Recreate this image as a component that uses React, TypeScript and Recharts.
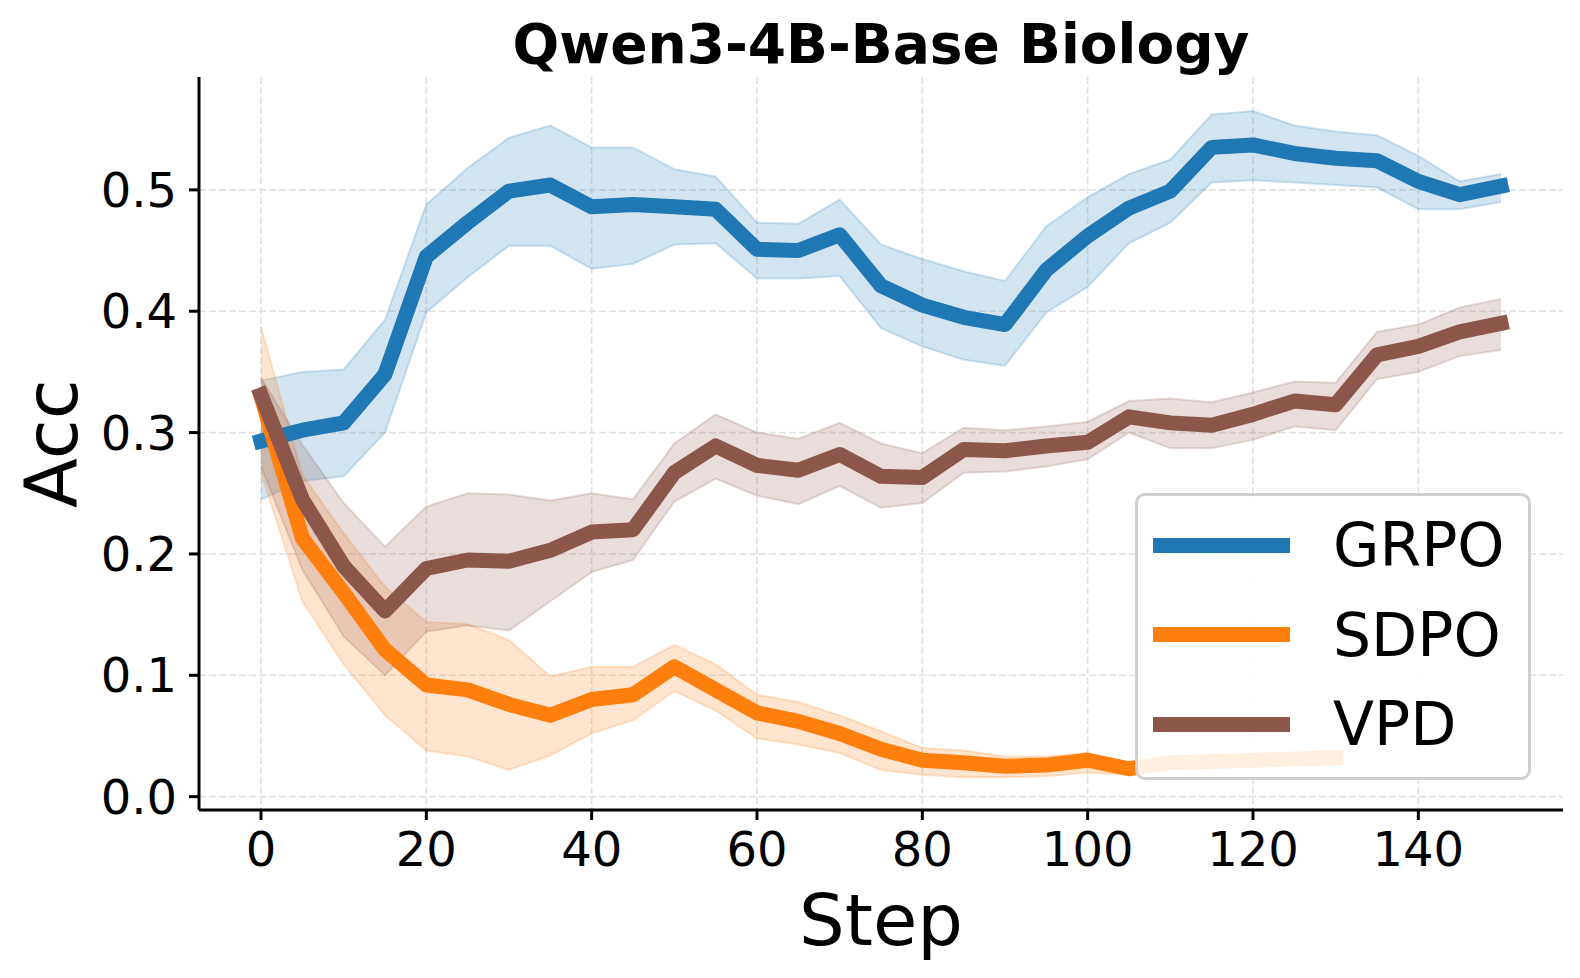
import React from 'react'
import { Area, CartesianGrid, ComposedChart, Label, Line, XAxis, YAxis } from 'recharts'

const steps = [0, 5, 10, 15, 20, 25, 30, 35, 40, 45, 50, 55, 60, 65, 70, 75, 80, 85, 90, 95, 100, 105, 110, 115, 120, 125, 130, 135, 140, 145, 150]

const grpoMean = [0.293, 0.302, 0.308, 0.348, 0.445, 0.473, 0.499, 0.504, 0.486, 0.488, 0.486, 0.484, 0.451, 0.45, 0.463, 0.421, 0.405, 0.395, 0.389, 0.434, 0.462, 0.485, 0.499, 0.535, 0.537, 0.53, 0.526, 0.524, 0.507, 0.496, 0.503]
const grpoHigh = [0.343, 0.35, 0.352, 0.393, 0.488, 0.518, 0.543, 0.553, 0.535, 0.535, 0.517, 0.511, 0.473, 0.472, 0.492, 0.455, 0.443, 0.433, 0.425, 0.47, 0.494, 0.513, 0.525, 0.562, 0.565, 0.553, 0.548, 0.545, 0.528, 0.507, 0.513]
const grpoLow = [0.245, 0.26, 0.264, 0.3, 0.399, 0.428, 0.454, 0.454, 0.435, 0.439, 0.455, 0.456, 0.427, 0.427, 0.429, 0.386, 0.371, 0.36, 0.355, 0.399, 0.42, 0.456, 0.473, 0.506, 0.508, 0.506, 0.504, 0.502, 0.484, 0.484, 0.49]

// SDPO stops at step 130
const sdpoMean = [0.33, 0.213, 0.168, 0.121, 0.092, 0.088, 0.076, 0.067, 0.08, 0.084, 0.107, 0.088, 0.069, 0.062, 0.052, 0.039, 0.03, 0.028, 0.025, 0.026, 0.03, 0.023, 0.028, 0.029, 0.03, 0.031, 0.032]
const sdpoHigh = [0.387, 0.265, 0.217, 0.173, 0.144, 0.142, 0.129, 0.099, 0.107, 0.107, 0.125, 0.109, 0.084, 0.078, 0.067, 0.054, 0.04, 0.038, 0.033, 0.033, 0.036, 0.028, 0.032, 0.033, 0.034, 0.035, 0.036]
const sdpoLow = [0.267, 0.161, 0.109, 0.067, 0.038, 0.033, 0.022, 0.034, 0.052, 0.063, 0.087, 0.071, 0.048, 0.043, 0.036, 0.022, 0.018, 0.016, 0.016, 0.017, 0.02, 0.018, 0.024, 0.025, 0.026, 0.027, 0.028]

const vpdMean = [0.331, 0.245, 0.19, 0.153, 0.188, 0.195, 0.194, 0.203, 0.218, 0.22, 0.267, 0.289, 0.273, 0.269, 0.282, 0.264, 0.263, 0.286, 0.285, 0.289, 0.292, 0.313, 0.308, 0.306, 0.315, 0.326, 0.323, 0.364, 0.371, 0.383, 0.39]
const vpdHigh = [0.345, 0.29, 0.242, 0.206, 0.239, 0.25, 0.249, 0.244, 0.25, 0.245, 0.291, 0.315, 0.3, 0.295, 0.308, 0.291, 0.283, 0.304, 0.302, 0.305, 0.309, 0.326, 0.328, 0.325, 0.333, 0.342, 0.341, 0.383, 0.389, 0.403, 0.41]
const vpdLow = [0.272, 0.187, 0.132, 0.1, 0.136, 0.141, 0.137, 0.161, 0.185, 0.195, 0.243, 0.262, 0.248, 0.241, 0.256, 0.238, 0.242, 0.267, 0.268, 0.272, 0.278, 0.3, 0.287, 0.287, 0.294, 0.305, 0.302, 0.344, 0.35, 0.363, 0.368]

const xTicks = [0, 20, 40, 60, 80, 100, 120, 140]
const yTicks = [0, 0.1, 0.2, 0.3, 0.4, 0.5]

const series = [
    { key: 'grpo', name: 'GRPO', color: '#1f77b4' },
    { key: 'sdpo', name: 'SDPO', color: '#ff7f0e' },
    { key: 'vpd', name: 'VPD', color: '#8c564b' },
]

const data = steps.map((step, i) => ({
    step,
    grpo: grpoMean[i],
    grpoBand: [grpoLow[i], grpoHigh[i]],
    sdpo: sdpoMean[i],
    sdpoBand: sdpoMean[i] == null ? undefined : [sdpoLow[i], sdpoHigh[i]],
    vpd: vpdMean[i],
    vpdBand: [vpdLow[i], vpdHigh[i]],
}))

const font = '"DejaVu Sans", sans-serif'
const axisColor = '#000'
const gridColor = '#e2e2e2'

const Y_AXIS_W = 150
const X_AXIS_H = 60

export default function App() {
    return (
        <div style={{ position: 'absolute', left: 0, top: 0, width: 1580, height: 978, background: '#fff', fontFamily: font }}>
            <div
                style={{
                    position: 'absolute',
                    left: 199,
                    width: 1364,
                    top: 9,
                    textAlign: 'center',
                    fontSize: 55,
                    fontWeight: 'bold',
                    lineHeight: '70px',
                }}
            >
                Qwen3-4B-Base Biology
            </div>
            <ComposedChart
                width={1580}
                height={978}
                data={data}
                margin={{ top: 77, right: 17, bottom: 168 - X_AXIS_H, left: 199 - Y_AXIS_W }}
            >
                <CartesianGrid
                    stroke={gridColor}
                    strokeWidth={1.6}
                    strokeDasharray="7 3"
                    horizontalValues={yTicks}
                    verticalValues={xTicks}
                />
                <XAxis
                    dataKey="step"
                    type="number"
                    domain={[-7.5, 157.5]}
                    ticks={xTicks}
                    allowDataOverflow
                    height={X_AXIS_H}
                    tickSize={10}
                    tickMargin={12}
                    stroke={axisColor}
                    strokeWidth={3}
                    tick={{ fill: '#000', fontSize: 48, fontFamily: font }}
                >
                    <Label
                        content={({ viewBox }: any) => (
                            <text
                                x={viewBox.x + viewBox.width / 2}
                                y={viewBox.y + 135}
                                textAnchor="middle"
                                fontSize={72}
                                fontFamily={font}
                                fill="#000"
                            >
                                Step
                            </text>
                        )}
                    />
                </XAxis>
                <YAxis
                    type="number"
                    domain={[-0.011, 0.593]}
                    ticks={yTicks}
                    allowDataOverflow
                    width={Y_AXIS_W}
                    tickSize={10}
                    tickMargin={12}
                    stroke={axisColor}
                    strokeWidth={3}
                    tickFormatter={(v: number) => v.toFixed(1)}
                    tick={{ fill: '#000', fontSize: 48, fontFamily: font }}
                >
                    <Label
                        content={({ viewBox }: any) => {
                            const cx = 77
                            const cy = viewBox.y + viewBox.height / 2
                            return (
                                <text
                                    x={cx}
                                    y={cy}
                                    transform={`rotate(-90, ${cx}, ${cy})`}
                                    textAnchor="middle"
                                    fontSize={73}
                                    fontFamily={font}
                                    fill="#000"
                                >
                                    Acc
                                </text>
                            )
                        }}
                    />
                </YAxis>
                {series.flatMap((s) => [
                    <Area
                        key={s.key + 'Band'}
                        type="linear"
                        dataKey={s.key + 'Band'}
                        fill={s.color}
                        fillOpacity={0.2}
                        stroke={s.color}
                        strokeOpacity={0.2}
                        strokeWidth={2}
                        dot={false}
                        activeDot={false}
                        isAnimationActive={false}
                    />,
                    <Line
                        key={s.key}
                        type="linear"
                        dataKey={s.key}
                        stroke={s.color}
                        strokeWidth={15}
                        strokeLinejoin="round"
                        strokeLinecap="square"
                        dot={false}
                        activeDot={false}
                        isAnimationActive={false}
                    />,
                ])}
            </ComposedChart>
            <div
                style={{
                    position: 'absolute',
                    left: 1135,
                    top: 493,
                    width: 390,
                    height: 281,
                    border: '3px solid #cfcfcf',
                    borderRadius: 10,
                    background: 'rgba(255,255,255,0.88)',
                }}
            >
                {series.map((s, i) => {
                    const cy = 49 + i * 89.5
                    return (
                        <React.Fragment key={s.key}>
                            <div
                                style={{
                                    position: 'absolute',
                                    left: 15,
                                    top: cy - 7.5,
                                    width: 137,
                                    height: 15,
                                    background: s.color,
                                }}
                            />
                            <div
                                style={{
                                    position: 'absolute',
                                    left: 195,
                                    top: cy - 40,
                                    height: 80,
                                    lineHeight: '80px',
                                    fontSize: 60,
                                    color: '#000',
                                    whiteSpace: 'nowrap',
                                }}
                            >
                                {s.name}
                            </div>
                        </React.Fragment>
                    )
                })}
            </div>
        </div>
    )
}
